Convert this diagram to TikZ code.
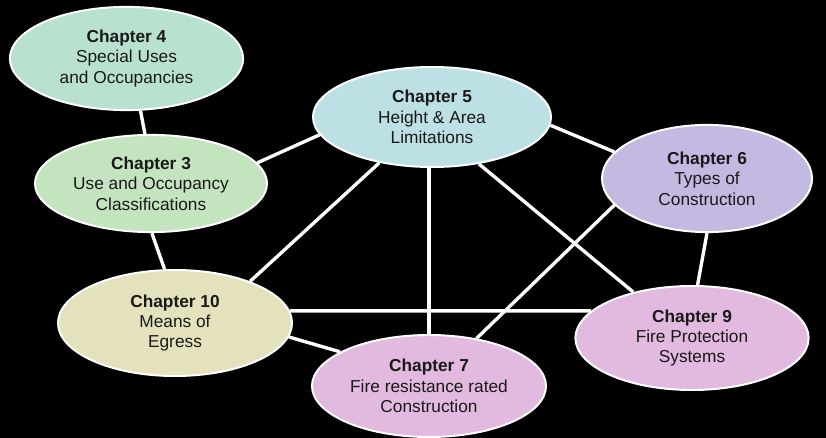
\documentclass[tikz,border=0pt]{standalone}
\usepackage{fontspec}
\setmainfont{Liberation Sans}
\usetikzlibrary{shapes.geometric}
\definecolor{mint}{RGB}{185,225,208}
\definecolor{leaf}{RGB}{195,228,190}
\definecolor{sky}{RGB}{188,224,228}
\definecolor{lilac}{RGB}{196,186,225}
\definecolor{cream}{RGB}{227,226,188}
\definecolor{orchid}{RGB}{226,186,224}
\begin{document}
\begin{tikzpicture}[x=0.025cm,y=-0.025cm,font=\fontsize{12.3}{14.5}\selectfont,
	chap/.style={ellipse,draw=white,line width=1.4pt,inner sep=0pt,align=center,text=black!90},
	link/.style={white,line width=2.4pt}]
	\fill[black] (0,0) rectangle (826,438);
	\node[chap,fill=mint,minimum width=5.83cm,minimum height=2.58cm] (ch4) at (126.5,58.5) {\textbf{Chapter 4}\\Special Uses\\and Occupancies};
	\node[chap,fill=leaf,minimum width=5.8cm,minimum height=2.43cm] (ch3) at (151,183.5) {\textbf{Chapter 3}\\Use and Occupancy\\Classifications};
	\node[chap,fill=sky,minimum width=5.95cm,minimum height=2.5cm] (ch5) at (432,117) {\textbf{Chapter 5}\\Height \& Area\\Limitations};
	\node[chap,fill=lilac,minimum width=5.25cm,minimum height=2.68cm] (ch6) at (707,178.5) {\textbf{Chapter 6}\\Types of\\Construction};
	\node[chap,fill=cream,minimum width=5.85cm,minimum height=2.65cm] (ch10) at (175,323) {\textbf{Chapter 10}\\Means of\\Egress};
	\node[chap,fill=orchid,minimum width=5.85cm,minimum height=2.55cm] (ch7) at (429,386) {\textbf{Chapter 7}\\Fire resistance rated\\Construction};
	\node[chap,fill=orchid,minimum width=5.83cm,minimum height=2.6cm] (ch9) at (692,338) {\textbf{Chapter 9}\\Fire Protection\\Systems};
	% links between chapters
	\draw[link] (ch4.-75)--(ch3.97);
	\draw[link] (ch3.11)--(ch5.189);
	\draw[link] (ch3.-89)--(ch10.101);
	\draw[link] (ch5.-4)--(ch6.164);
	\draw[link] (ch5.221)--(ch10.29);
	\draw[link] (ch7.north |- ch5.south)--(ch7.north);
	\draw[link] (ch5.-45)--(ch9.142);
	\draw[link] (ch6.196)--(ch7.45);
	\draw[link] (ch6.south)--(ch9.84);
	\draw[link] (ch10.6)--(ch9.165);
	\draw[link] (ch10.-7)--(ch7.159);
\end{tikzpicture}
\end{document}
